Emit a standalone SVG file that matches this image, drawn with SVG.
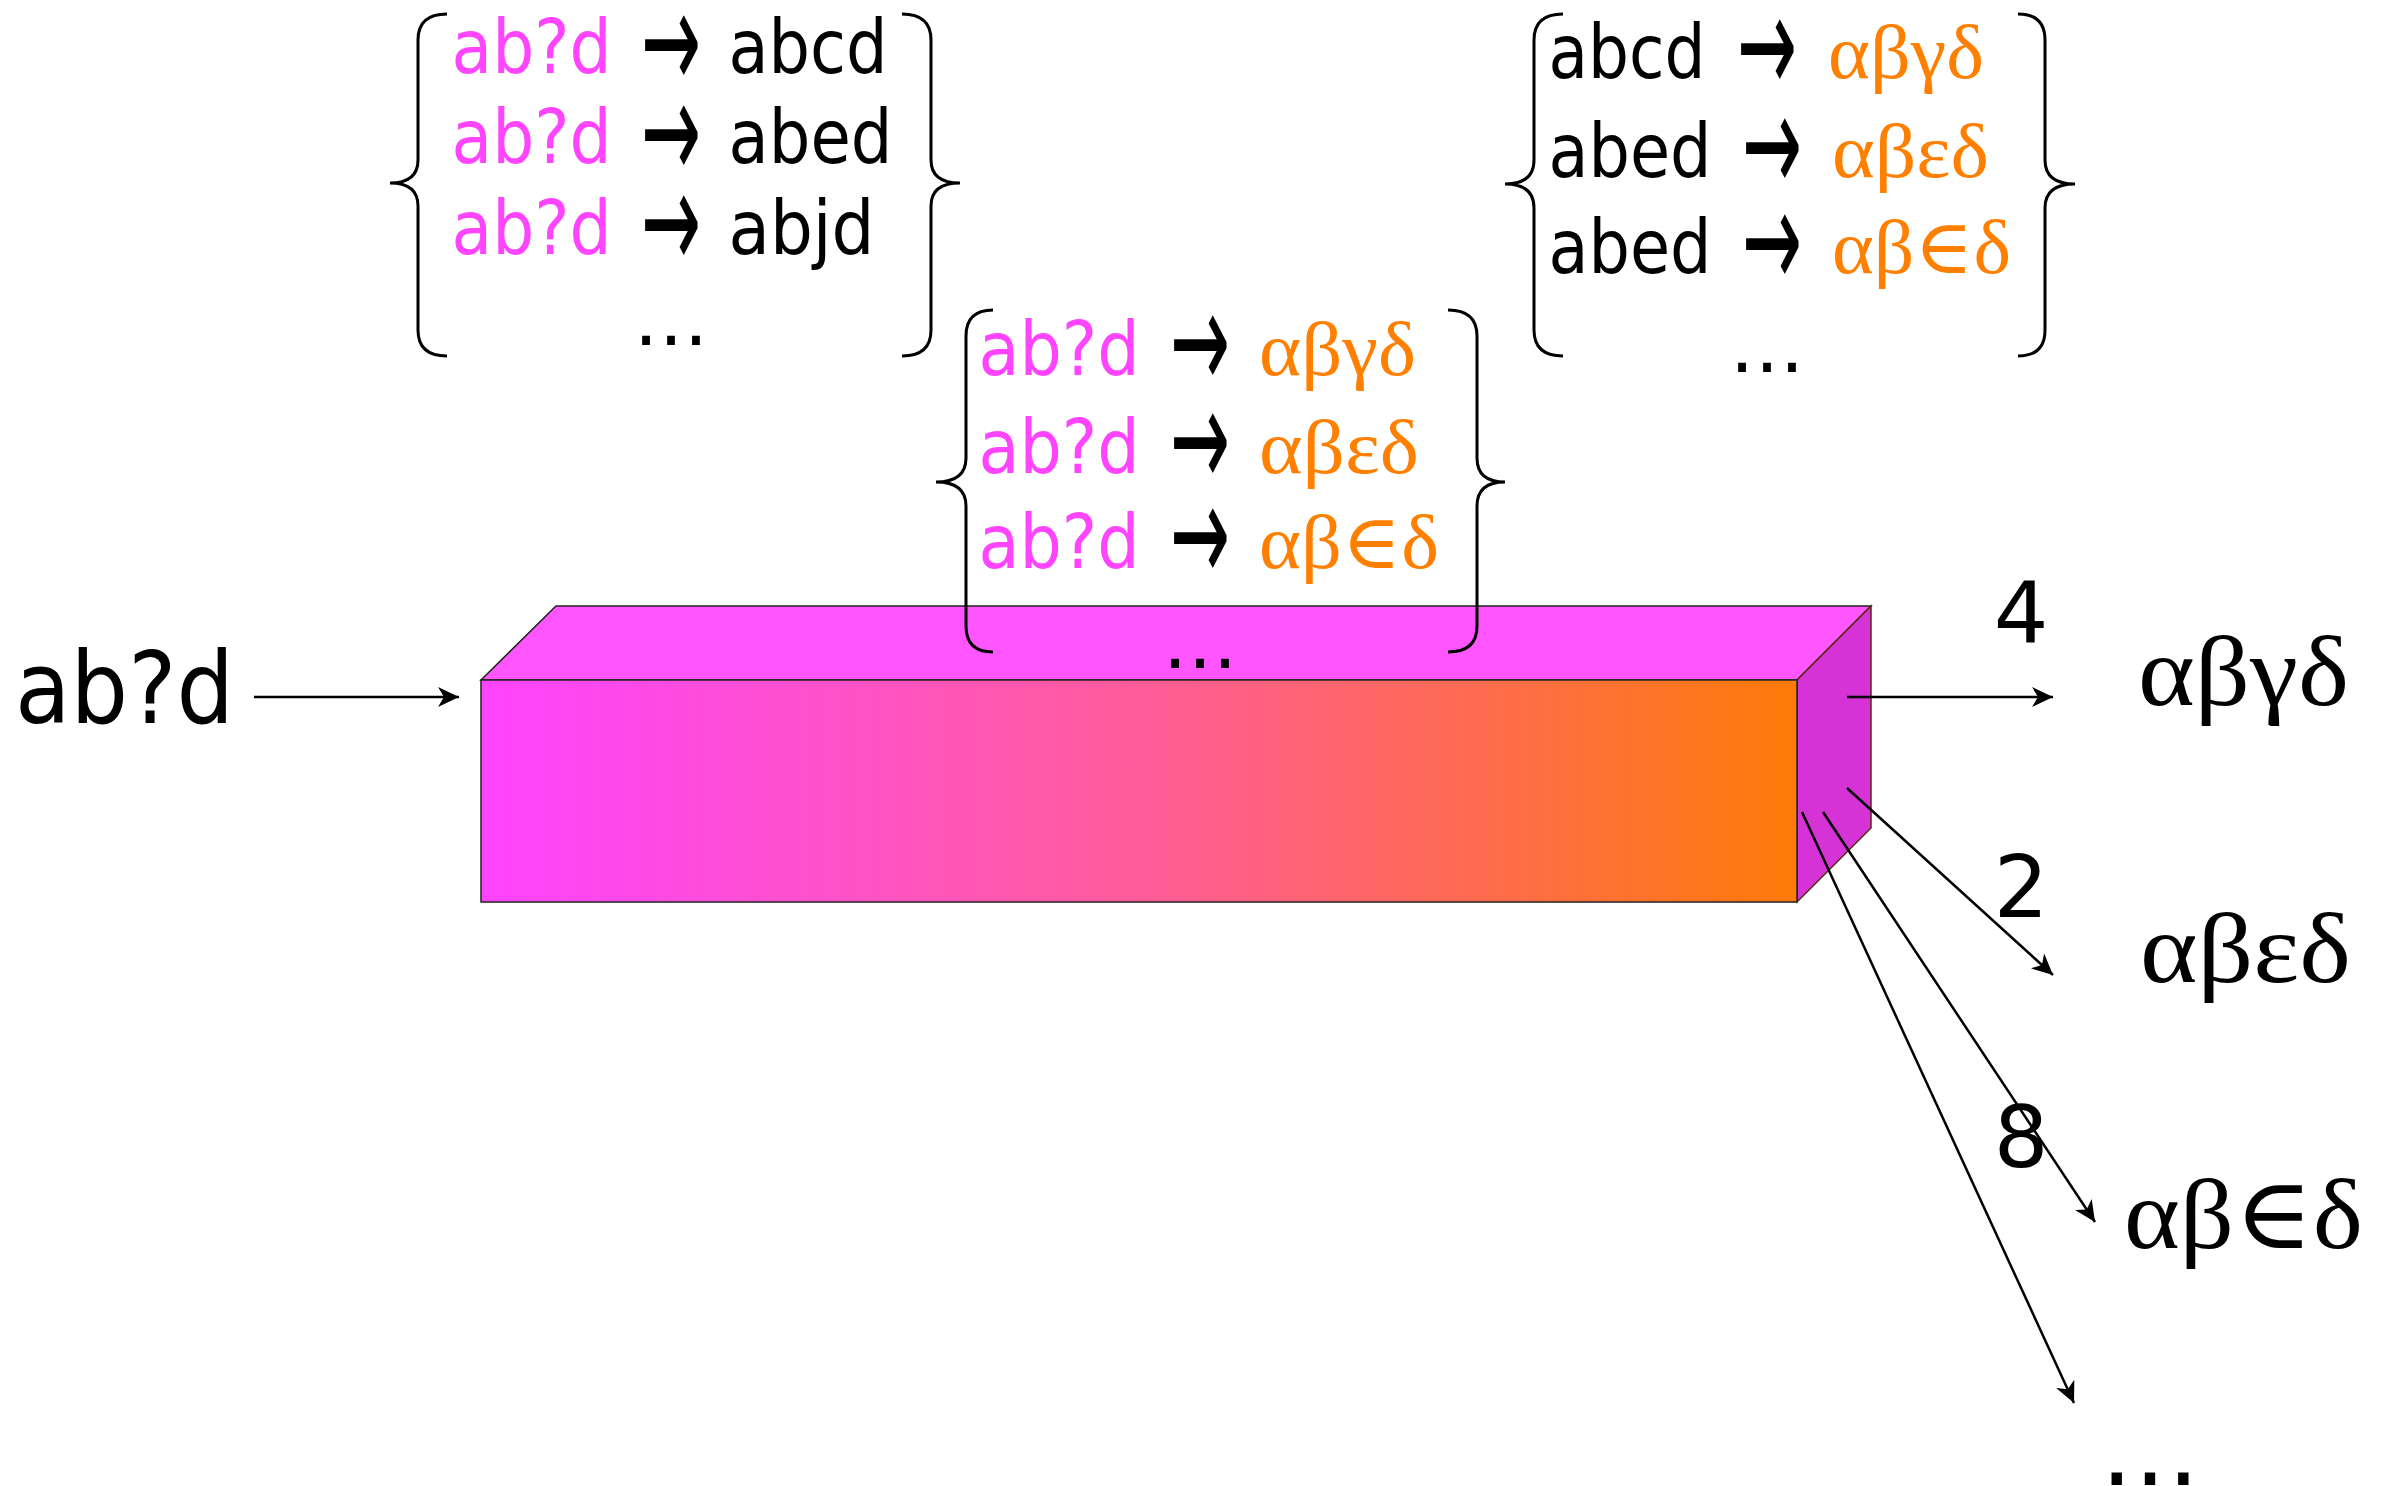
<svg xmlns="http://www.w3.org/2000/svg" width="2387" height="1486" viewBox="0 0 2387 1486">
<style>
.s{font-family:"DejaVu Sans","Liberation Sans",sans-serif;}
.g{font-family:"Liberation Serif","DejaVu Serif",serif;}
.m{fill:#FF44FF;}
.k{fill:#000;}
.o{fill:#FF8000;}
.br{fill:none;stroke:#000;stroke-width:3;}
.cn{fill:none;stroke:#000;stroke-width:2.5;marker-end:url(#ah);}
.ar{font-family:"DejaVu Sans",sans-serif;font-size:140px;fill:#000;}
</style>
<defs>
<linearGradient id="fg" x1="0" y1="0" x2="1" y2="0">
<stop offset="0" stop-color="#FF44FF"/>
<stop offset="0.5" stop-color="#FF5C9A"/>
<stop offset="1" stop-color="#FF7A08"/>
</linearGradient>
<marker id="ah" markerUnits="userSpaceOnUse" markerWidth="22" markerHeight="20" refX="21" refY="10" orient="auto" viewBox="0 0 22 20">
<path d="M21 10 L0 0 L6 10 L0 20 Z" fill="#000"/>
</marker>
</defs>
<rect width="2387" height="1486" fill="#fff"/>

<g id="box">
<polygon points="481,680 556,606 1871,606 1797,680" fill="#FF55FF" stroke="#222" stroke-width="1.5"/>
<polygon points="1797,680 1871,606 1871,828 1797,902" fill="#D633D6" stroke="#5a2a10" stroke-width="1.5"/>
<rect x="481" y="680" width="1316" height="222" fill="url(#fg)" stroke="#222" stroke-width="1.5"/>
</g>

<g id="input">
<text class="s k" x="15" y="723" font-size="100" textLength="219" lengthAdjust="spacingAndGlyphs">ab?d</text>
</g>

<g id="block-left">
<path class="br" d="M447 14 Q418 14 418 40 L418 160 Q418 183 390 183 Q418 183 418 206 L418 330 Q418 356 447 356"/>
<path class="br" d="M902 14 Q931 14 931 40 L931 160 Q931 183 960 183 Q931 183 931 206 L931 330 Q931 356 902 356"/>
<text class="s m" x="451.5" y="73" font-size="75" textLength="160" lengthAdjust="spacingAndGlyphs">ab?d</text>
<text class="ar" x="641" y="89" textLength="60" lengthAdjust="spacingAndGlyphs">→</text>
<text class="s k" x="728.5" y="73" font-size="75" textLength="159" lengthAdjust="spacingAndGlyphs">abcd</text>
<text class="s m" x="451.5" y="163" font-size="75" textLength="160" lengthAdjust="spacingAndGlyphs">ab?d</text>
<text class="ar" x="641" y="179" textLength="60" lengthAdjust="spacingAndGlyphs">→</text>
<text class="s k" x="728.5" y="163" font-size="75" textLength="164" lengthAdjust="spacingAndGlyphs">abed</text>
<text class="s m" x="451.5" y="254" font-size="75" textLength="160" lengthAdjust="spacingAndGlyphs">ab?d</text>
<text class="ar" x="641" y="269" textLength="60" lengthAdjust="spacingAndGlyphs">→</text>
<text class="s k" x="728.5" y="254" font-size="75" textLength="146" lengthAdjust="spacingAndGlyphs">abjd</text>
<text class="s k" x="671" y="345" font-size="75" text-anchor="middle">…</text>
</g>

<g id="block-center">
<path class="br" d="M993 310 Q966 310 966 336 L966 458 Q966 482 936 482 Q966 482 966 506 L966 626 Q966 652 993 652"/>
<path class="br" d="M1448 310 Q1477 310 1477 336 L1477 458 Q1477 482 1505 482 Q1477 482 1477 506 L1477 626 Q1477 652 1448 652"/>
<text class="s m" x="978.5" y="375" font-size="75" textLength="161" lengthAdjust="spacingAndGlyphs">ab?d</text>
<text class="ar" x="1170" y="389" textLength="60" lengthAdjust="spacingAndGlyphs">→</text>
<text class="g o" x="1259" y="375" font-size="76" textLength="157" lengthAdjust="spacingAndGlyphs">αβγδ</text>
<text class="s m" x="978.5" y="473" font-size="75" textLength="161" lengthAdjust="spacingAndGlyphs">ab?d</text>
<text class="ar" x="1170" y="487" textLength="60" lengthAdjust="spacingAndGlyphs">→</text>
<text class="g o" x="1259" y="473" font-size="76" textLength="160" lengthAdjust="spacingAndGlyphs">αβεδ</text>
<text class="s m" x="978.5" y="568" font-size="75" textLength="161" lengthAdjust="spacingAndGlyphs">ab?d</text>
<text class="ar" x="1170" y="582" textLength="60" lengthAdjust="spacingAndGlyphs">→</text>
<text class="g o" x="1259" y="568" font-size="76" textLength="180" lengthAdjust="spacingAndGlyphs">αβ∈δ</text>
<text class="s k" x="1200" y="668" font-size="75" text-anchor="middle">…</text>
</g>

<g id="block-right">
<path class="br" d="M1563 14 Q1534 14 1534 40 L1534 160 Q1534 184 1505 184 Q1534 184 1534 208 L1534 330 Q1534 356 1563 356"/>
<path class="br" d="M2018 14 Q2045 14 2045 40 L2045 160 Q2045 184 2075 184 Q2045 184 2045 208 L2045 330 Q2045 356 2018 356"/>
<text class="s k" x="1548.5" y="78" font-size="75" textLength="157" lengthAdjust="spacingAndGlyphs">abcd</text>
<text class="ar" x="1737" y="93" textLength="60" lengthAdjust="spacingAndGlyphs">→</text>
<text class="g o" x="1828" y="78" font-size="76" textLength="156" lengthAdjust="spacingAndGlyphs">αβγδ</text>
<text class="s k" x="1548.5" y="177" font-size="75" textLength="163" lengthAdjust="spacingAndGlyphs">abed</text>
<text class="ar" x="1742" y="192" textLength="60" lengthAdjust="spacingAndGlyphs">→</text>
<text class="g o" x="1832" y="177" font-size="76" textLength="157" lengthAdjust="spacingAndGlyphs">αβεδ</text>
<text class="s k" x="1548.5" y="273" font-size="75" textLength="163" lengthAdjust="spacingAndGlyphs">abed</text>
<text class="ar" x="1742" y="288" textLength="60" lengthAdjust="spacingAndGlyphs">→</text>
<text class="g o" x="1832" y="273" font-size="76" textLength="179" lengthAdjust="spacingAndGlyphs">αβ∈δ</text>
<text class="s k" x="1767" y="372" font-size="75" text-anchor="middle">…</text>
</g>

<g id="connectors">
<line class="cn" x1="254" y1="697" x2="459" y2="697"/>
<line class="cn" x1="1847" y1="697" x2="2053" y2="697"/>
<line class="cn" x1="1847" y1="788" x2="2053" y2="975"/>
<line class="cn" x1="1823" y1="812" x2="2095" y2="1222"/>
<line class="cn" x1="1802" y1="812" x2="2074" y2="1403"/>
</g>

<g id="out-1">
<text class="s k" x="2021" y="643" font-size="86" text-anchor="middle">4</text>
<text class="g k" x="2138" y="705" font-size="100" textLength="211" lengthAdjust="spacingAndGlyphs">αβγδ</text>
</g>
<g id="out-2">
<text class="s k" x="2021" y="917" font-size="86" text-anchor="middle">2</text>
<text class="g k" x="2140" y="982" font-size="100" textLength="211" lengthAdjust="spacingAndGlyphs">αβεδ</text>
</g>
<g id="out-3">
<text class="s k" x="2021" y="1167" font-size="86" text-anchor="middle">8</text>
<text class="g k" x="2124" y="1248" font-size="100" textLength="239" lengthAdjust="spacingAndGlyphs">αβ∈δ</text>
</g>
<g id="out-4">
<text class="s k" x="2150" y="1485" font-size="100" text-anchor="middle">…</text>
</g>
</svg>
